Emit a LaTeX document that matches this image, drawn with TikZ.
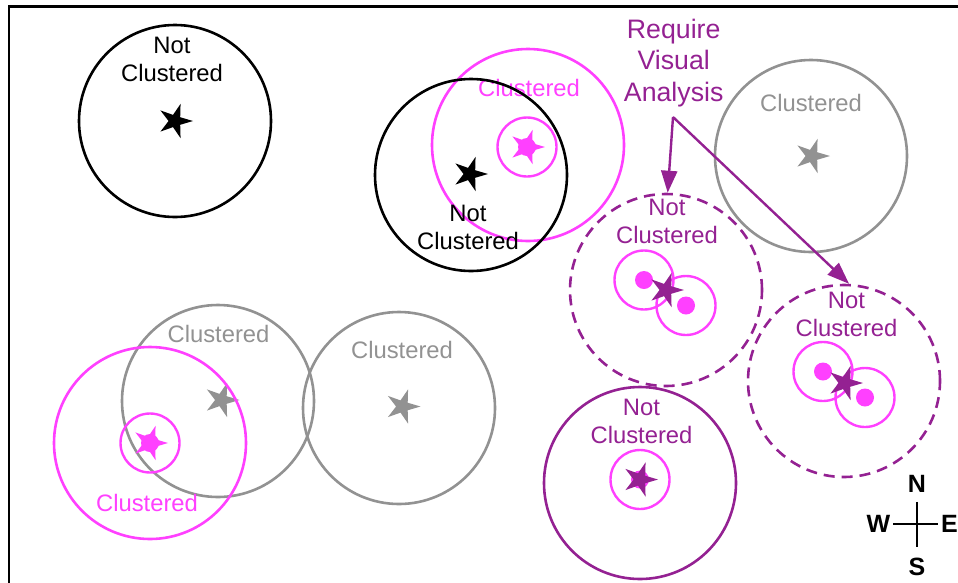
\documentclass[tikz,border=0pt]{standalone}
\usepackage{fontspec}
\setmainfont{Liberation Sans}
\usetikzlibrary{shapes.geometric,arrows.meta}
\definecolor{mag}{HTML}{FF40FF}
\definecolor{plum}{HTML}{942192}
\definecolor{ash}{HTML}{929292}

\begin{document}
\begin{tikzpicture}[x=1pt,y=-1pt,
  ring/.style={circle, draw, line width=2.6pt, minimum size=192pt, inner sep=0pt},
  dashring/.style={ring, draw=plum, dash pattern=on 11pt off 7pt},
  halo/.style={circle, draw=mag, line width=2.4pt, minimum size=59pt, inner sep=0pt},
  dot/.style={circle, fill=mag, minimum size=18pt, inner sep=0pt},
  centre/.style={star, star points=5, star point ratio=2.8, minimum size=36pt, inner sep=0pt, rotate=-90},
  lbl/.style={font=\fontsize{23.8}{28.8}\selectfont, align=center, anchor=north, inner sep=0pt, yshift=-1.5pt},
  compass/.style={font=\fontsize{25}{30}\selectfont\bfseries, inner sep=0pt},
  pointer/.style={draw=plum, line width=2.4pt, -{Triangle[length=22pt,width=16pt]}}
]
\useasboundingbox (0,0) rectangle (958,582);

% outer frame
\draw[line width=2.8pt] (9,6.5) rectangle (1000,620);

% black, top left
\node[ring, draw=black] (nc1) at (175,121) {};
\node[centre, fill=black] (s1) at (175,121) {};
\node[lbl] (t1) at (172,35) {Not\\Clustered};

% magenta, top centre
\node[ring, draw=mag] (cl1) at (528,145) {};
\node[halo] (h1) at (527,147) {};
\node[dot] (d1) at (527,147) {};
\node[centre, fill=mag] (s3) at (527,147) {};
\node[lbl, text=mag] (t3) at (529,78) {Clustered};

% black, centre
\node[ring, draw=black] (nc2) at (471,175) {};
\node[centre, fill=black] (s2) at (470,174) {};
\node[lbl] (t2) at (468,203) {Not\\Clustered};

% grey, top right
\node[ring, draw=ash] (cl2) at (811,156) {};
\node[centre, fill=ash] (s4) at (812,156) {};
\node[lbl, text=ash] (t4) at (811,93) {Clustered};

% dashed purple A
\node[dashring] (dA) at (666,290) {};
\node[halo] (hA1) at (644,280) {};
\node[halo] (hA2) at (686,305.5) {};
\node[dot] (dA1) at (644,280) {};
\node[dot] (dA2) at (686,305.5) {};
\node[centre, fill=plum] (sA) at (666,290) {};
\node[lbl, text=plum] (tA) at (667,197) {Not\\Clustered};

% dashed purple B
\node[dashring] (dB) at (844,381) {};
\node[halo] (hB1) at (823,371.5) {};
\node[halo] (hB2) at (865,397.5) {};
\node[dot] (dB1) at (823,371.5) {};
\node[dot] (dB2) at (865,397.5) {};
\node[centre, fill=plum] (sB) at (845,383) {};
\node[lbl, text=plum] (tB) at (846.5,290) {Not\\Clustered};

% solid purple, bottom
\node[ring, draw=plum] (pc) at (640,483) {};
\node[halo] (hP) at (640,479.5) {};
\node[dot] (dP) at (640,479.5) {};
\node[centre, fill=plum] (sP) at (640,479.5) {};
\node[lbl, text=plum] (tP) at (641.5,397) {Not\\Clustered};

% grey, bottom left pair
\node[ring, draw=ash] (g1) at (218,401) {};
\node[centre, fill=ash] (sg1) at (221.5,400) {};
\node[lbl, text=ash] (tg1) at (218.5,324) {Clustered};
\node[ring, draw=ash] (g2) at (399,408) {};
\node[centre, fill=ash] (sg2) at (402.5,406.5) {};
\node[lbl, text=ash] (tg2) at (402,340) {Clustered};

% magenta, bottom left
\node[ring, draw=mag] (cl3) at (150,443) {};
\node[halo] (h3) at (150,443) {};
\node[dot] (d3) at (150,443) {};
\node[centre, fill=mag] (s5) at (150,443) {};
\node[lbl, text=mag] (t5) at (147,493) {Clustered};

% call-out
\node[font=\fontsize{26.7}{31.5}\selectfont, align=center, anchor=north, inner sep=0pt, text=plum] (req) at (673.7,18.5) {Require\\Visual\\Analysis};
\coordinate (fork) at (673,117);
\draw[pointer] (fork) -- (dA.89);
\draw[pointer] (fork) -- (dB.87);

% compass rose
\node[compass] (N) at (917,484) {N};
\node[compass] (S) at (917,567) {S};
\node[compass] (W) at (878.5,524) {W};
\node[compass] (E) at (949.5,524) {E};
\draw[line width=2pt, shorten <=9pt, shorten >=11pt] (N) -- (S);
\draw[line width=2pt, shorten <=2.7pt, shorten >=2.5pt] (W) -- (E);
\end{tikzpicture}
\end{document}
